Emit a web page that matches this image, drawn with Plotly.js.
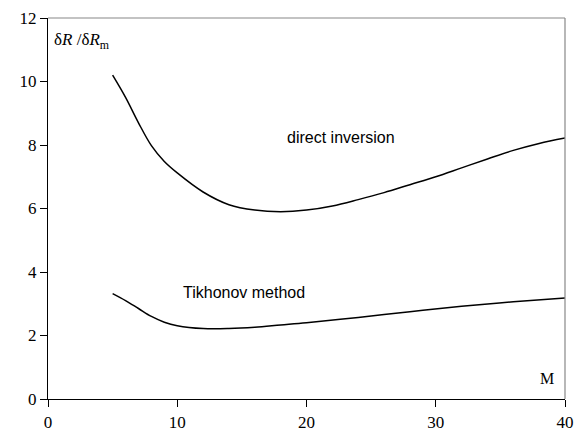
<!DOCTYPE html>
<html>
<head>
<meta charset="utf-8">
<script src="https://cdn.plot.ly/plotly-3.0.1.min.js"></script>
<style>html,body{margin:0;padding:0;background:#fff;}#chart{width:579px;height:438px;}</style>
</head>
<body>
<div id="chart"></div>
<script>
const directX = [5, 6, 7, 8, 9, 10, 12, 14, 16, 18, 20, 22, 24, 26, 28, 30, 32, 34, 36, 38, 40];
const directY = [10.2, 9.5, 8.7, 7.98, 7.48, 7.12, 6.52, 6.12, 5.95, 5.9, 5.95, 6.08, 6.28, 6.5, 6.75, 7.0, 7.28, 7.56, 7.83, 8.05, 8.22];
const tikhX = [5, 6, 7, 8, 9, 10, 12, 14, 16, 18, 20, 24, 28, 32, 36, 40];
const tikhY = [3.32, 3.1, 2.85, 2.6, 2.42, 2.31, 2.22, 2.22, 2.26, 2.33, 2.4, 2.57, 2.75, 2.92, 3.06, 3.18];
const xTicks = [0, 10, 20, 30, 40];
const yTicks = [0, 2, 4, 6, 8, 10, 12];
const curveLabels = [
  {text: "direct inversion", x: 22.7, y: 8.25},
  {text: "Tikhonov method", x: 15.2, y: 3.34}
];

const serif = "Times New Roman";
const sans = "Arial";

const traces = [
  {x: directX, y: directY, mode: "lines", line: {color: "#000", width: 1.5, shape: "spline", smoothing: 1}, showlegend: false, hoverinfo: "skip"},
  {x: tikhX, y: tikhY, mode: "lines", line: {color: "#000", width: 1.5, shape: "spline", smoothing: 1}, showlegend: false, hoverinfo: "skip"}
];

const annotations = curveLabels.map(l => ({
  text: l.text, x: l.x, y: l.y, xref: "x", yref: "y", showarrow: false,
  font: {family: sans, size: 16, color: "#000"}
}));
annotations.push({
  text: "δ<i>R</i> /δ<i>R</i><sub>m</sub>", xref: "paper", yref: "paper", x: 0.008, y: 0.975,
  xanchor: "left", yanchor: "top", showarrow: false, font: {family: serif, size: 17, color: "#000"}
});
annotations.push({
  text: "M", xref: "x", yref: "y", x: 38.6, y: 0.66, showarrow: false,
  font: {family: serif, size: 16, color: "#000"}
});

const layout = {
  width: 579, height: 438,
  margin: {l: 48, r: 14, t: 18, b: 39},
  font: {family: serif, size: 17, color: "#000"},
  paper_bgcolor: "#fff", plot_bgcolor: "#fff",
  xaxis: {range: [0, 40], tickvals: xTicks, ticktext: xTicks.map(String), showgrid: false, zeroline: false,
    showline: true, linecolor: "#000", linewidth: 1.2, ticks: "outside", ticklen: 7, tickcolor: "#000",
    tickfont: {family: serif, size: 17, color: "#000"}},
  yaxis: {range: [0, 12], tickvals: yTicks, ticktext: yTicks.map(String), showgrid: false, zeroline: false,
    showline: true, linecolor: "#000", linewidth: 1.2, ticks: "outside", ticklen: 7, tickcolor: "#000",
    tickfont: {family: serif, size: 17, color: "#000"}},
  shapes: [
    {type: "line", xref: "paper", yref: "paper", x0: 0, x1: 1, y0: 1, y1: 1, line: {color: "#888", width: 1.2}},
    {type: "line", xref: "paper", yref: "paper", x0: 1, x1: 1, y0: 0, y1: 1, line: {color: "#888", width: 1.2}}
  ],
  annotations: annotations
};

Plotly.newPlot("chart", traces, layout, {displayModeBar: false, staticPlot: true});
</script>
</body>
</html>
